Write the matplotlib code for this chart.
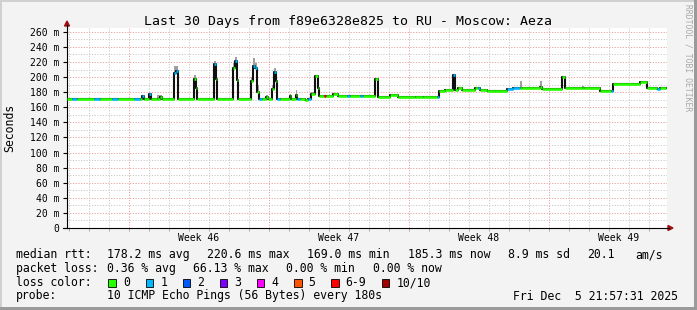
import matplotlib
matplotlib.use("Agg")
import matplotlib.pyplot as plt
import matplotlib.transforms as mtransforms
from matplotlib.patches import Rectangle, Polygon
from matplotlib.lines import Line2D

plt.rcParams['font.family'] = ['DejaVu Sans Mono']

W, H = 697, 310

# --- data ---
# start of each step (days since Wed Nov 5 21:57:31), median rtt (ms),
# lost pings out of 10, top of the smoke (ms)
t_start = [0.00, 0.25, 0.50, 1.35, 1.65, 2.25, 2.55, 3.35, 3.65, 3.75,
           3.85, 4.10, 4.20, 4.50, 4.65, 4.75, 5.35, 5.45, 5.55, 6.35,
           6.45, 6.50, 7.35, 7.45, 7.50, 8.30, 8.40, 8.50, 8.55, 9.20,
           9.30, 9.40, 9.50, 9.60, 9.75, 9.95, 10.05, 10.25, 10.35, 10.45,
           10.50, 10.65, 11.15, 11.20, 11.45, 11.50, 11.65, 11.90, 12.05, 12.20,
           12.40, 12.55, 12.60, 12.85, 12.95, 13.30, 13.55, 14.00, 14.15, 14.65,
           14.80, 15.40, 15.55, 16.15, 16.55, 17.40, 17.80, 18.50, 18.60, 18.90,
           19.30, 19.40, 19.55, 19.75, 20.40, 20.55, 20.65, 21.00, 22.00, 22.30,
           22.65, 22.75, 23.65, 23.75, 24.75, 24.90, 25.75, 25.85, 26.65, 27.20,
           27.30, 28.65, 29.00, 29.50, 29.65]
t_end = 29.95
median_ms = [171, 171, 171, 171, 171, 171, 171, 171, 171, 175,
             171, 177, 171, 171, 174, 171, 205, 208, 171, 198,
             186, 171, 217, 198, 171, 212, 221, 196, 171, 195,
             215, 212, 180, 171, 171, 174, 171, 184, 207, 195,
             171, 171, 175, 171, 176, 171, 171, 169, 171, 178,
             201, 186, 175, 175, 175, 177, 175, 175, 175, 175,
             175, 198, 174, 176, 174, 173, 174, 174, 182, 183,
             203, 183, 185, 183, 186, 186, 183, 182, 184, 185,
             185, 185, 187, 184.5, 200, 185, 185, 185, 182, 182,
             190.5, 193, 186, 184, 185]
loss = [0, 1, 0, 1, 0, 1, 0, 1, 0, 1,
        0, 1, 0, 0, 0, 0, 1, 1, 0, 0,
        0, 0, 1, 0, 0, 0, 1, 0, 0, 0,
        1, 1, 0, 1, 0, 0, 0, 0, 1, 0,
        1, 0, 0, 0, 0, 1, 0, 0, 1, 0,
        0, 0, 0, 7, 0, 0, 0, 1, 0, 1,
        0, 0, 0, 0, 0, 0, 0, 1, 0, 0,
        1, 0, 0, 0, 0, 1, 0, 0, 1, 1,
        0, 0, 0, 0, 0, 0, 0, 0, 0, 1,
        0, 0, 0, 1, 0]
smoke_top = [171, 171, 171, 171, 171, 171, 171, 171, 171, 176,
             171, 178, 171, 176, 176, 171, 214, 214, 171, 203,
             192, 171, 221, 205, 171, 218, 226, 205, 171, 200,
             225, 218, 190, 171, 171, 176, 171, 190, 212, 200,
             171, 171, 177, 171, 183, 171, 171, 169, 171, 180,
             202, 186, 175, 175, 175, 177, 175, 175, 175, 175,
             175, 199, 174, 176, 174, 173, 174, 174, 182, 183,
             204, 183, 185, 183, 186, 186, 183, 182, 184, 185,
             195, 185, 195, 184.5, 201, 185, 188, 185, 182, 182,
             190.5, 193, 186, 184, 185]

week_labels = ["Week 46", "Week 47", "Week 48", "Week 49"]
first_midnight = 2.0414 / 24        # Thu Nov 6 00:00
first_sunday = first_midnight + 3   # Sun Nov 9 00:00

rtt_stats = [178.2, 220.6, 169.0, 185.3]   # avg, max, min, now
rtt_sd = 8.9
rtt_ams = 20.1
loss_stats = [0.36, 66.13, 0.00, 0.00]     # avg, max, min, now
loss_names = ["0", "1", "2", "3", "4", "5", "6-9", "10/10"]
loss_colors = ["#26ff00", "#00b8ff", "#0059ff", "#7e00ff",
               "#ff00ff", "#ff5500", "#ff0000", "#a10000"]


def loss_idx(n):
    if n <= 5:
        return n
    return 6 if n < 10 else 7


def fx(x):
    return x / W


def fy(y):
    return 1 - y / H


fig = plt.figure(figsize=(W / 100, H / 100), dpi=100)
fig.patch.set_facecolor('#f3f3f3')

ax = fig.add_axes([fx(67), fy(228), 600 / W, 200 / H])
ax.set_facecolor('white')
ax.set_xlim(0, 30)
ax.set_ylim(0, 265)

# grid
for v in range(10, 265, 10):
    col = '#e8a0a0' if v % 20 == 0 else '#c8c8c8'
    ax.axhline(v, color=col, lw=0.7, ls=(0, (1.2, 1.6)), zorder=1)
days = [first_midnight + k for k in range(30)]
for d in days:
    is_sun = abs(((d - first_sunday) / 7) - round((d - first_sunday) / 7)) < 1e-6
    col = '#e8a0a0' if is_sun else '#c8c8c8'
    ax.axvline(d, color=col, lw=0.7, ls=(0, (1.2, 1.6)), zorder=1)

# smoke
xs = t_start + [t_end]
med = median_ms + [median_ms[-1]]
smk = smoke_top + [smoke_top[-1]]
ax.fill_between(xs, med, smk, step='post', color='#a0a0a0', lw=0, zorder=2)

# median line, black steps then loss coloured segments
ax.step(xs, med, where='post', color='#101010', lw=1.5, zorder=3)
for i in range(len(t_start)):
    ax.hlines(median_ms[i], xs[i], xs[i + 1],
              color=loss_colors[loss_idx(loss[i])], lw=1.9, zorder=4)

# axes
for s in ['top', 'right']:
    ax.spines[s].set_visible(False)
for s in ['left', 'bottom']:
    ax.spines[s].set_color('black')
    ax.spines[s].set_linewidth(0.8)
ax.set_yticks(range(0, 261, 20))
ax.set_yticklabels(['0'] + ['%d m' % v for v in range(20, 261, 20)])
ax.tick_params(axis='y', length=3, width=0.8, pad=2.5, labelsize=7)
ax.set_xticks([])
ax.set_xticks(days, minor=True)
ax.tick_params(axis='x', which='minor', length=2, width=0.6, color='#999999')

trans = mtransforms.blended_transform_factory(ax.transData, fig.transFigure)
for k, lab in enumerate(week_labels):
    ax.text(first_sunday + 3.5 + 7 * k, fy(241), lab, transform=trans,
            ha='center', va='baseline', fontsize=7)

# axis arrows
fig.add_artist(Line2D([fx(67), fx(67)], [fy(28), fy(25)], color='black', lw=0.8))
fig.add_artist(Polygon([(fx(64.5), fy(26)), (fx(69.5), fy(26)), (fx(67), fy(21))],
                       closed=True, color='#a01010'))
fig.add_artist(Line2D([fx(63), fx(67)], [fy(228), fy(228)], color='black', lw=0.8))
fig.add_artist(Line2D([fx(667), fx(669)], [fy(228), fy(228)], color='black', lw=0.8))
fig.add_artist(Polygon([(fx(668), fy(225.5)), (fx(668), fy(230.5)), (fx(673), fy(228))],
                       closed=True, color='#a01010'))

# titles
fig.text(0.5, fy(25), "Last 30 Days from f89e6328e825 to RU - Moscow: Aeza",
         ha='center', va='baseline', fontsize=9.5)
fig.text(fx(10), fy(128), "Seconds", rotation=90, ha='center', va='center', fontsize=8.3)
fig.text(fx(688), fy(4), "RRDTOOL / TOBI OETIKER", rotation=270, ha='center', va='top',
         fontsize=5.8, color='#a8a8a8')

# legend
fs = 8.3
fig.text(fx(16), fy(258), "median rtt:", fontsize=fs, va='baseline')
rtt_x = [107.3, 207.3, 306.7, 407.7]
for x, v, lab in zip(rtt_x, rtt_stats, ['avg', 'max', 'min', 'now']):
    fig.text(fx(x), fy(258), "%.1f ms %s" % (v, lab), fontsize=fs, va='baseline')
fig.text(fx(507.7), fy(258), "%.1f ms sd" % rtt_sd, fontsize=fs, va='baseline')
fig.text(fx(586.7), fy(258), "%.1f" % rtt_ams, fontsize=fs, va='baseline')
fig.text(fx(635), fy(258), "am/s", fontsize=fs, va='baseline')

fig.text(fx(16), fy(272), "packet loss:", fontsize=fs, va='baseline')
loss_x = [107.3, 193.3, 286, 372.7]
for x, v, lab in zip(loss_x, loss_stats, ['avg', 'max', 'min', 'now']):
    fig.text(fx(x), fy(272), "%.2f %% %s" % (v, lab), fontsize=fs, va='baseline')

fig.text(fx(16), fy(286), "loss color:", fontsize=fs, va='baseline')
sq_x = [108.3, 145.7, 182.7, 220, 256.7, 294, 331, 381.7]
for x, name, col in zip(sq_x, loss_names, loss_colors):
    fig.add_artist(Rectangle((fx(x), fy(286.5)), 7.5 / W, 7.5 / H, transform=fig.transFigure,
                             facecolor=col, edgecolor='black', lw=0.6))
    fig.text(fx(x + 14.5), fy(286), name, fontsize=fs, va='baseline')

fig.text(fx(16), fy(299.5), "probe:", fontsize=fs, va='baseline')
fig.text(fx(107.3), fy(299.5), "10 ICMP Echo Pings (56 Bytes) every 180s", fontsize=fs, va='baseline')
fig.text(fx(513), fy(299.5), "Fri Dec  5 21:57:31 2025", fontsize=fs, va='baseline')

# image frame shading
fig.add_artist(Rectangle((0, 0), 2 / W, 1, transform=fig.transFigure, color='#d0d0d0', lw=0))
fig.add_artist(Rectangle((0, 1 - 2 / H), 1, 2 / H, transform=fig.transFigure, color='#d0d0d0', lw=0))
fig.add_artist(Rectangle((1 - 3 / W, 0), 3 / W, 1, transform=fig.transFigure, color='#9a9a9a', lw=0))
fig.add_artist(Rectangle((0, 0), 1, 3 / H, transform=fig.transFigure, color='#9a9a9a', lw=0))

fig.savefig('out.png', dpi=100, facecolor=fig.get_facecolor())
